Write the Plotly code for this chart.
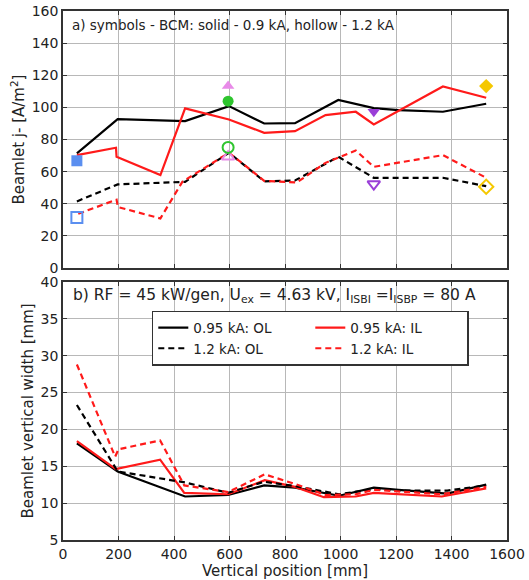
import plotly.graph_objects as go

# ---------------- data: panel a (beamlet current density) ----------------
x_ol = [50, 197, 440, 598, 725, 836, 992, 1120, 1209, 1369, 1525]
j_ol_095 = [71.4, 92.7, 91.5, 100.8, 90.0, 90.2, 104.6, 99.6, 98.3, 97.3, 102.3]
j_ol_12 = [41.5, 52.1, 53.7, 71.8, 54.0, 54.5, 69.3, 56.2, 56.2, 56.2, 51.0]

x_il_095 = [50, 191, 193, 351, 440, 598, 725, 836, 946, 1055, 1120, 1369, 1525]
j_il_095 = [70.3, 74.9, 69.3, 57.9, 99.4, 92.5, 84.2, 85.2, 95.2, 97.3, 89.4, 113.0, 106.0]

x_il_12 = [55, 193, 198, 351, 430, 598, 725, 843, 946, 1055, 1120, 1369, 1525]
j_il_12 = [33.8, 42.6, 38.0, 30.9, 53.7, 71.8, 54.3, 53.3, 65.5, 73.2, 63.0, 70.3, 56.2]

# BCM symbols
bcm_x = [50, 595, 595, 1120, 1525]
bcm_solid = [66.8, 113.3, 103.9, 97.3, 113.3]
bcm_hollow = [31.5, 69.3, 75.1, 52.3, 50.6]
bcm_symbols = ["square", "triangle-up", "circle", "triangle-down", "diamond"]
bcm_colors = ["#5b8ff0", "#e88ae8", "#2ec52e", "#9a3fd8", "#f5c800"]

# ---------------- data: panel b (beamlet vertical width) ----------------
xw_ol = [50, 197, 440, 595, 725, 836, 995, 1120, 1209, 1385, 1525]
w_ol_095 = [18.1, 14.3, 10.9, 11.1, 12.4, 12.1, 11.0, 12.1, 11.8, 11.3, 12.5]
w_ol_12 = [23.3, 14.3, 12.8, 11.4, 12.9, 12.3, 11.2, 11.9, 11.7, 11.7, 12.4]

xw_il_095 = [50, 190, 350, 437, 595, 727, 836, 940, 1055, 1120, 1365, 1525]
w_il_095 = [18.4, 14.6, 15.9, 11.4, 11.2, 13.1, 12.2, 10.8, 10.9, 11.4, 10.9, 12.0]

xw_il_12 = [50, 188, 200, 350, 437, 595, 727, 836, 946, 1055, 1120, 1365, 1525]
w_il_12 = [28.8, 16.3, 17.3, 18.5, 12.4, 11.5, 13.9, 12.6, 11.1, 11.2, 11.8, 11.2, 12.2]

x_ticks = [0, 200, 400, 600, 800, 1000, 1200, 1400, 1600]
ya_ticks = [0, 20, 40, 60, 80, 100, 120, 140, 160]
yb_ticks = [5, 10, 15, 20, 25, 30, 35, 40]

RED = "#ff1a1a"
DASH = "6px,4px"
LW = 2.2

fig = go.Figure()

# panel a lines
fig.add_trace(go.Scatter(x=x_ol, y=j_ol_095, mode="lines", line=dict(color="black", width=LW),
                         showlegend=False, xaxis="x", yaxis="y"))
fig.add_trace(go.Scatter(x=x_il_095, y=j_il_095, mode="lines", line=dict(color=RED, width=LW),
                         showlegend=False, xaxis="x", yaxis="y"))
fig.add_trace(go.Scatter(x=x_ol, y=j_ol_12, mode="lines", line=dict(color="black", width=LW, dash=DASH),
                         showlegend=False, xaxis="x", yaxis="y"))
fig.add_trace(go.Scatter(x=x_il_12, y=j_il_12, mode="lines", line=dict(color=RED, width=LW, dash=DASH),
                         showlegend=False, xaxis="x", yaxis="y"))

# BCM markers
for xi, ys, yh, sym, col in zip(bcm_x, bcm_solid, bcm_hollow, bcm_symbols, bcm_colors):
    fig.add_trace(go.Scatter(x=[xi], y=[ys], mode="markers",
                             marker=dict(symbol=sym, size=11, color=col, line=dict(width=0)),
                             showlegend=False, xaxis="x", yaxis="y"))
    fig.add_trace(go.Scatter(x=[xi], y=[yh], mode="markers",
                             marker=dict(symbol=sym + "-open", size=11, color=col, line=dict(width=2, color=col)),
                             showlegend=False, xaxis="x", yaxis="y"))

# panel b lines (legend order: row-wise)
fig.add_trace(go.Scatter(x=xw_ol, y=w_ol_095, mode="lines", name="0.95 kA: OL",
                         line=dict(color="black", width=LW), xaxis="x2", yaxis="y2"))
fig.add_trace(go.Scatter(x=xw_il_095, y=w_il_095, mode="lines", name="0.95 kA: IL",
                         line=dict(color=RED, width=LW), xaxis="x2", yaxis="y2"))
fig.add_trace(go.Scatter(x=xw_ol, y=w_ol_12, mode="lines", name="1.2 kA: OL",
                         line=dict(color="black", width=LW, dash=DASH), xaxis="x2", yaxis="y2"))
fig.add_trace(go.Scatter(x=xw_il_12, y=w_il_12, mode="lines", name="1.2 kA: IL",
                         line=dict(color=RED, width=LW, dash=DASH), xaxis="x2", yaxis="y2"))

axis_common = dict(showline=True, linecolor="#333333", linewidth=1.5, mirror="ticks",
                   showgrid=True, gridcolor="#b8b8b8", gridwidth=1, zeroline=False,
                   ticks="inside", ticklen=4, tickcolor="#333333", automargin=False,
                   tickfont=dict(size=14, color="#222222"))

fig.update_layout(
    width=529, height=580,
    margin=dict(l=63, r=22, t=11, b=40),
    paper_bgcolor="white", plot_bgcolor="white",
    font=dict(family="DejaVu Sans", color="#222222"),
    xaxis=dict(domain=[0, 1], anchor="y", range=[0, 1600], tickvals=x_ticks,
               showticklabels=False, **axis_common),
    yaxis=dict(domain=[0.514, 1], anchor="x", range=[0, 160], tickvals=ya_ticks,
               title=dict(text="Beamlet j- [A/m<sup>2</sup>]", font=dict(size=15), standoff=3),
               **axis_common),
    xaxis2=dict(domain=[0, 1], anchor="y2", range=[0, 1600], tickvals=x_ticks,
                title=dict(text="Vertical position [mm]", font=dict(size=15), standoff=0),
                **axis_common),
    yaxis2=dict(domain=[0, 0.488], anchor="x2", range=[5, 40], tickvals=yb_ticks,
                title=dict(text="Beamlet vertical width [mm]", font=dict(size=15), standoff=3),
                **axis_common),
    legend=dict(orientation="h", x=0.2, y=0.433, xanchor="left", yanchor="top",
                entrywidth=112, entrywidthmode="pixels",
                bgcolor="white", bordercolor="#333333", borderwidth=1.5,
                font=dict(size=13.5, color="#222222"), tracegroupgap=0, itemwidth=30),
    annotations=[
        dict(text="a) symbols - BCM: solid - 0.9 kA, hollow - 1.2 kA", xref="paper", yref="paper",
             x=0.015, y=0.993, xanchor="left", yanchor="top", showarrow=False,
             font=dict(size=13.5, color="#222222")),
        dict(text="b) RF = 45 kW/gen, U<sub>ex</sub> = 4.63 kV, I<sub>ISBI</sub> =I<sub>ISBP</sub> = 80 A",
             xref="paper", yref="paper", x=0.018, y=0.483, xanchor="left", yanchor="top",
             showarrow=False, font=dict(size=15.5, color="#222222")),
    ],
)

fig.write_html("out.html", config={"displayModeBar": False},
               post_script="document.body.style.margin='0px';")
